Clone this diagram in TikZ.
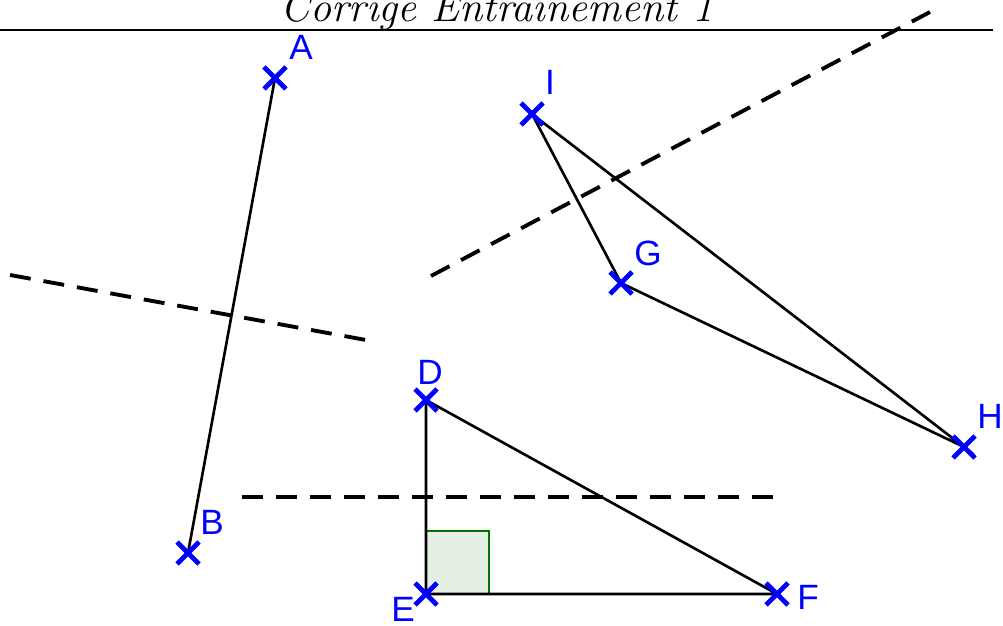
\documentclass[tikz,border=0pt]{standalone}
\usepackage{fontspec}
\setsansfont{Liberation Sans}
\usetikzlibrary{positioning, calc}

\begin{document}
\begin{tikzpicture}[x=0.1mm, y=-0.1mm]
    \tikzset{
      seg/.style={draw=black, line width=0.75pt},
      axe/.style={draw=black, line width=1.1pt, dash pattern=on 2.1mm off 1.3mm},
      lbl/.style={text=blue, font=\fontsize{10}{11}\sffamily, inner sep=0pt}
    }
    \useasboundingbox (0,0) rectangle (1003,626);

    % Titre
    \begin{scope}
      \clip (0,0) rectangle (1003,626);
      \node[font=\fontsize{12}{13}\itshape, anchor=base, inner sep=0pt] (titre) at (497,22) {Corrigé Entraînement 1};
    \end{scope}
    \draw[line width=0.75pt] (0,30) -- (993,30);

    % Points
    \coordinate (A) at (275,78);
    \coordinate (B) at (188,553);
    \coordinate (I) at (532,114);
    \coordinate (G) at (621,283);
    \coordinate (H) at (964,447);
    \coordinate (D) at (426,400);
    \coordinate (E) at (426,594);
    \coordinate (F) at (777,594);

    % Axes
    \coordinate (a1) at (10,275);
    \coordinate (a2) at (366,340);
    \coordinate (b1) at (431,276);
    \coordinate (b2) at (930,12);
    \coordinate (c1) at (242,497);
    \coordinate (c2) at (773,497);
    \draw[axe] (a1) -- (a2);
    \draw[axe] (b1) -- (b2);
    \draw[axe] (c1) -- (c2);

    % Angle droit
    \draw[fill=green!40!black!10, draw=green!45!black, line width=0.75pt] (E) rectangle ($(E)+(63,-63)$);

    % Segments
    \draw[seg] (A) -- (B);
    \draw[seg] (I) -- (G) -- (H) -- cycle;
    \draw[seg] (D) -- (E) -- (F) -- cycle;

    % Croix
    \foreach \p in {A,B,I,G,H,D,E,F}
      \draw[blue, line width=1.4pt] ($(\p)+(-11,-11)$) -- ($(\p)+(11,11)$)
                                    ($(\p)+(-11,11)$) -- ($(\p)+(11,-11)$);

    % Noms
    \node[lbl] (nA) at (301,47) {A};
    \node[lbl] (nB) at (212,522) {B};
    \node[lbl] (nI) at (550,82) {I};
    \node[lbl] (nG) at (648,253) {G};
    \node[lbl] (nH) at (990,416) {H};
    \node[lbl] (nD) at (430,372) {D};
    \node[lbl] (nE) at (403,609) {E};
    \node[lbl] (nF) at (808,597) {F};
  \end{tikzpicture}
\end{document}
